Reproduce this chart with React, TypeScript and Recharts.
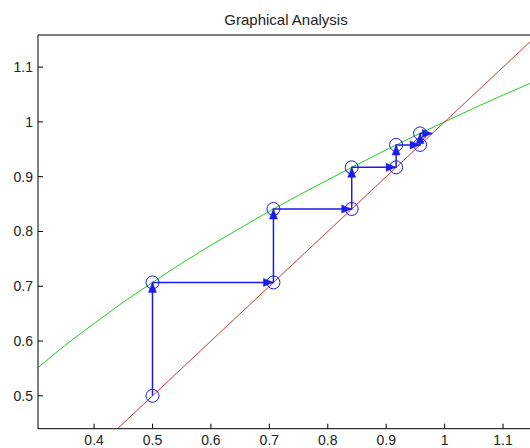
import React from 'react';
import { ComposedChart, Line, Scatter, XAxis, YAxis } from 'recharts';

// g(x) curve
const curveX = [0.3, 0.35, 0.4, 0.45, 0.5, 0.55, 0.6, 0.65, 0.7, 0.75, 0.8, 0.85, 0.9, 0.95, 1.0, 1.05, 1.1, 1.15, 1.2];
const curveY = [0.548, 0.592, 0.632, 0.671, 0.707, 0.742, 0.775, 0.806, 0.837, 0.866, 0.894, 0.922, 0.949, 0.975, 1.0, 1.025, 1.049, 1.072, 1.095];

// y = x
const diagX = [0.3, 1.2];
const diagY = [0.3, 1.2];

// cobweb path
const webX = [0.5, 0.5, 0.707, 0.707, 0.841, 0.841, 0.917, 0.917, 0.958, 0.958, 0.979];
const webY = [0.5, 0.707, 0.707, 0.841, 0.841, 0.917, 0.917, 0.958, 0.958, 0.979, 0.979];

const xTicks = [0.4, 0.5, 0.6, 0.7, 0.8, 0.9, 1, 1.1];
const yTicks = [0.5, 0.6, 0.7, 0.8, 0.9, 1, 1.1];

const BLUE = '#1c1ce8';
const FONT = '"Liberation Sans", Arial, sans-serif';

const curveData = curveX.map((x, i) => ({ x, y: curveY[i] }));
const diagData = diagX.map((x, i) => ({ x, y: diagY[i] }));
const webData = webX.map((x, i) => ({ x, y: webY[i] }));
const markerData = webData.slice(0, 10);
const arrowData = webData.slice(1).map((p, i) => ({ ...p, dir: p.x === webData[i].x ? 'up' : 'right' }));

const Ring = (props: any) => (
    <circle cx={props.cx} cy={props.cy} r={6.5} fill="none" stroke={BLUE} strokeWidth={1} />
);

const Head = (props: any) => {
    const { cx, cy, payload } = props;
    const pts = payload.dir === 'up'
        ? `${cx},${cy} ${cx - 4},${cy + 10} ${cx + 4},${cy + 10}`
        : `${cx},${cy} ${cx - 10},${cy - 4} ${cx - 10},${cy + 4}`;
    return <polygon points={pts} fill={BLUE} stroke={BLUE} strokeWidth={0.5} />;
};

const tickStyle = { fill: '#222', fontSize: 14, fontFamily: FONT };

export default function App() {
    return (
        <div style={styles.frame}>
            <div style={styles.title}>Graphical Analysis</div>
            <ComposedChart width={540} height={448} margin={{ top: 34, right: 6, bottom: 0, left: 0 }}>
                <XAxis
                    xAxisId={0}
                    type="number"
                    dataKey="x"
                    domain={[0.304, 1.153]}
                    allowDataOverflow
                    ticks={xTicks}
                    height={19.3}
                    tickSize={-5}
                    tickMargin={11}
                    tick={tickStyle}
                    axisLine={{ stroke: '#000' }}
                    tickLine={{ stroke: '#000' }}
                />
                <XAxis
                    xAxisId="top"
                    orientation="top"
                    type="number"
                    dataKey="x"
                    domain={[0.304, 1.153]}
                    allowDataOverflow
                    ticks={xTicks}
                    height={1}
                    tickSize={-5}
                    tick={false}
                    axisLine={{ stroke: '#000' }}
                    tickLine={{ stroke: '#000' }}
                />
                <YAxis
                    type="number"
                    dataKey="y"
                    domain={[0.44, 1.1586]}
                    allowDataOverflow
                    ticks={yTicks}
                    width={38}
                    tickSize={-5}
                    tickMargin={10}
                    tick={tickStyle}
                    axisLine={{ stroke: '#000' }}
                    tickLine={{ stroke: '#000' }}
                />
                <Line data={curveData} dataKey="y" type="linear" stroke="#22cc22" strokeWidth={1} dot={false} activeDot={false} isAnimationActive={false} />
                <Line data={diagData} dataKey="y" type="linear" stroke="#d03838" strokeWidth={1} dot={false} activeDot={false} isAnimationActive={false} />
                <Line data={webData} dataKey="y" type="linear" stroke={BLUE} strokeWidth={1.5} dot={false} activeDot={false} isAnimationActive={false} />
                <Scatter data={markerData} dataKey="y" shape={<Ring />} isAnimationActive={false} />
                <Scatter data={arrowData} dataKey="y" shape={<Head />} isAnimationActive={false} />
            </ComposedChart>
        </div>
    );
}

const styles = {
    frame: {
        position: 'absolute' as const,
        left: 0,
        top: 0,
        width: 530,
        height: 448,
        overflow: 'hidden' as const,
        background: '#fff'
    },
    title: {
        position: 'absolute' as const,
        left: 38,
        top: 11,
        width: 496,
        textAlign: 'center' as const,
        fontFamily: FONT,
        fontSize: 15,
        color: '#222',
        lineHeight: 'normal'
    }
};
